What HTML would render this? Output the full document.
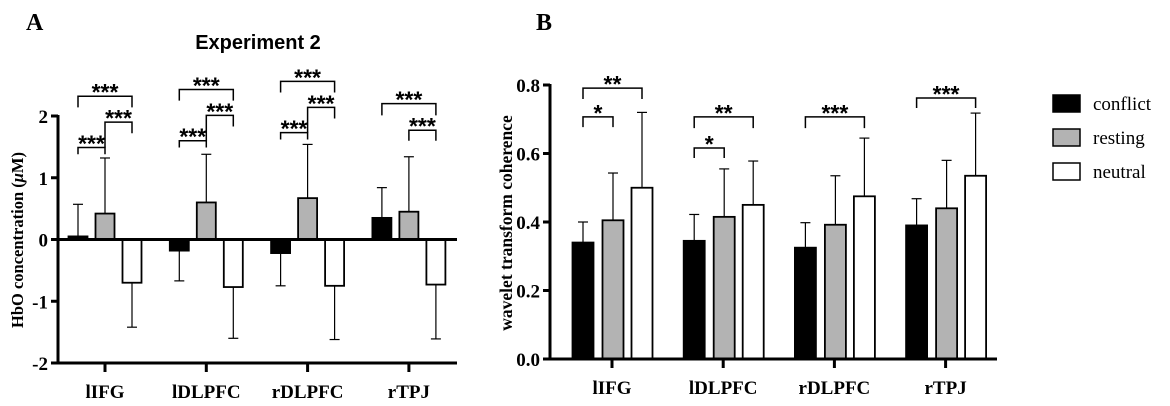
<!DOCTYPE html>
<html><head><meta charset="utf-8"><style>
body{margin:0;background:#fff;}
svg{display:block;}
.tk{font-family:"Liberation Serif",serif;font-weight:bold;font-size:19px;}
.st{font-family:"Liberation Sans",sans-serif;font-weight:bold;font-size:23px;}
</style></head><body>
<svg id="svg" width="1170" height="406" viewBox="0 0 1170 406" xmlns="http://www.w3.org/2000/svg">
<text x="26" y="30" font-family="Liberation Serif,serif" font-weight="bold" font-size="24">A</text>
<text x="536" y="30" font-family="Liberation Serif,serif" font-weight="bold" font-size="24">B</text>
<text x="258" y="49" text-anchor="middle" font-family="Liberation Sans,sans-serif" font-weight="bold" font-size="20">Experiment 2</text>
<text transform="translate(23,240) rotate(-90)" text-anchor="middle" font-family="Liberation Serif,serif" font-weight="bold" font-size="16.5">HbO concentration (<tspan font-style="italic">μ</tspan>M)</text>
<text transform="translate(512,223) rotate(-90)" text-anchor="middle" font-family="Liberation Serif,serif" font-weight="bold" font-size="17.5">wavelet transform coherence</text>
<g id="legend">
<rect x="1053" y="95" width="27" height="17" fill="#000" stroke="#000" stroke-width="1.5"/>
<text x="1093" y="110" font-family="Liberation Serif,serif" font-size="19">conflict</text>
<rect x="1053" y="129" width="27" height="17" fill="#b3b3b3" stroke="#000" stroke-width="1.5"/>
<text x="1093" y="144" font-family="Liberation Serif,serif" font-size="19">resting</text>
<rect x="1053" y="163" width="27" height="17" fill="#fff" stroke="#000" stroke-width="1.5"/>
<text x="1093" y="178" font-family="Liberation Serif,serif" font-size="19">neutral</text>
</g>
</svg>
<script>
const categories=["lIFG","lDLPFC","rDLPFC","rTPJ"];
const seriesNames=["conflict","resting","neutral"];
const fills=["#000","#b3b3b3","#fff"];
const aConflict=[0.05,-0.18,-0.22,0.35];
const aConflictErr=[0.52,0.49,0.53,0.49];
const aResting=[0.42,0.60,0.67,0.45];
const aRestingErr=[0.90,0.78,0.87,0.89];
const aNeutral=[-0.70,-0.77,-0.75,-0.73];
const aNeutralErr=[0.72,0.83,0.87,0.88];
const aTicks=[2,1,0,-1,-2];
const aTickLabels=["2","1","0","-1","-2"];
// [group, fromSeries, toSeries, level, leftLeg, rightLeg, label]
const aBrackets=[[0,0,1,1.49,1.38,1.38,"***"],[0,1,2,1.90,1.49,1.72,"***"],[0,0,2,2.32,2.14,2.14,"***"],
[1,0,1,1.60,1.49,1.49,"***"],[1,1,2,2.01,1.60,1.83,"***"],[1,0,2,2.43,2.25,2.25,"***"],
[2,0,1,1.73,1.62,1.62,"***"],[2,1,2,2.14,1.73,1.96,"***"],[2,0,2,2.56,2.38,2.38,"***"],
[3,1,2,1.77,1.60,1.60,"***"],[3,0,2,2.20,2.01,2.01,"***"]];
const bConflict=[0.34,0.345,0.325,0.39];
const bConflictErr=[0.06,0.077,0.073,0.078];
const bResting=[0.405,0.415,0.392,0.44];
const bRestingErr=[0.138,0.14,0.143,0.14];
const bNeutral=[0.50,0.45,0.475,0.535];
const bNeutralErr=[0.22,0.128,0.17,0.183];
const bTicks=[0,0.2,0.4,0.6,0.8];
const bTickLabels=["0.0","0.2","0.4","0.6","0.8"];
const bBrackets=[[0,0,1,0.707,0.677,0.677,"*"],[0,0,2,0.791,0.759,0.759,"**"],
[1,0,1,0.616,0.587,0.587,"*"],[1,0,2,0.707,0.674,0.674,"**"],
[2,0,2,0.707,0.674,0.674,"***"],[3,0,2,0.762,0.733,0.733,"***"]];

const svg=document.getElementById('svg');
const NS='http://www.w3.org/2000/svg';
function mk(tag,attrs,parent){const e=document.createElementNS(NS,tag);for(const k in attrs)e.setAttribute(k,attrs[k]);(parent||svg).appendChild(e);return e;}

function drawChart(cfg){
  const g=mk('g',{});
  
  
  const y=v=>cfg.y0+(v-cfg.v0)*(cfg.y1-cfg.y0)/(cfg.v1-cfg.v0);
  const gx=i=>cfg.x0+cfg.xStep*i;
  const bx=(i,s)=>gx(i)+cfg.off[s];
  const vals=[cfg.c,cfg.r,cfg.n], errs=[cfg.ce,cfg.re,cfg.ne];
  const base=y(Math.max(cfg.v0,Math.min(0,cfg.v1)));
  for(let s=0;s<3;s++)for(let i=0;i<categories.length;i++){
    const v=vals[s][i], e=errs[s][i];
    const cx=bx(i,s), yv=y(v), dir=v>=0?1:-1, ye=y(v+dir*e);
    const l=mk('line',{x1:cx,x2:cx,y1:yv,y2:ye,stroke:'#000','stroke-width':1.2},g);
    
    
    const c=mk('line',{x1:cx-5,x2:cx+5,y1:ye,y2:ye,stroke:'#000','stroke-width':1.2},g);
    
    
    const r=mk('rect',{x:cx-cfg.bw/2,y:Math.min(yv,base),width:cfg.bw,height:Math.max(Math.abs(base-yv),0.5),fill:fills[s],stroke:'#000','stroke-width':1.8},g);
    
    
  }
  const bottom=y(cfg.v0);
  const ya=mk('line',{x1:cfg.ax,x2:cfg.ax,y1:y(cfg.v1)-1,y2:bottom+1.5,stroke:'#000','stroke-width':3},g);
  
  
  const xa=mk('line',{x1:cfg.ax-1.5,x2:cfg.xEnd,y1:bottom,y2:bottom,stroke:'#000','stroke-width':3},g);
  
  
  if(base!==bottom){
    const zl=mk('line',{x1:cfg.ax-1.5,x2:cfg.xEnd,y1:base,y2:base,stroke:'#000','stroke-width':3},g);
    
    
  }
  cfg.ticks.forEach((t,k)=>{
    const tl=mk('line',{x1:cfg.ax-7,x2:cfg.ax,y1:y(t),y2:y(t),stroke:'#000','stroke-width':3},g);
    
    
    const tx=mk('text',{x:cfg.ax-10,y:y(t)+7,'text-anchor':'end','class':'tk'},g);
    tx.textContent=cfg.tickLabels[k];
    
    
  });
  categories.forEach((c,i)=>{
    const tl=mk('line',{x1:gx(i),x2:gx(i),y1:bottom,y2:bottom+9,stroke:'#000','stroke-width':3},g);
    
    
    const tx=mk('text',{x:gx(i),y:bottom+35,'text-anchor':'middle','class':'tk'},g);
    tx.textContent=c;
    
    
  });
  cfg.brackets.forEach(b=>{
    const x1=bx(b[0],b[1]), x2=bx(b[0],b[2]), yl=y(b[3]);
    const p=mk('path',{d:`M${x1},${y(b[4])}V${yl}H${x2}V${y(b[5])}`,fill:'none',stroke:'#000','stroke-width':1.5},g);
    
    
    const t=mk('text',{x:(x1+x2)/2,y:yl+4,'text-anchor':'middle','class':'st'},g);
    t.textContent=b[6];
    
    
  });
}
drawChart({id:'chart-a',v0:-2,v1:2,y0:363,y1:116,ax:58,xEnd:457,x0:105,xStep:101.3,off:[-27,0,27],bw:19,
  c:aConflict,ce:aConflictErr,r:aResting,re:aRestingErr,n:aNeutral,ne:aNeutralErr,ticks:aTicks,tickLabels:aTickLabels,brackets:aBrackets});
drawChart({id:'chart-b',v0:0,v1:0.8,y0:359,y1:85,ax:550,xEnd:997,x0:612,xStep:111.2,off:[-29,1,30],bw:21,
  c:bConflict,ce:bConflictErr,r:bResting,re:bRestingErr,n:bNeutral,ne:bNeutralErr,ticks:bTicks,tickLabels:bTickLabels,brackets:bBrackets});
</script>
</body></html>
